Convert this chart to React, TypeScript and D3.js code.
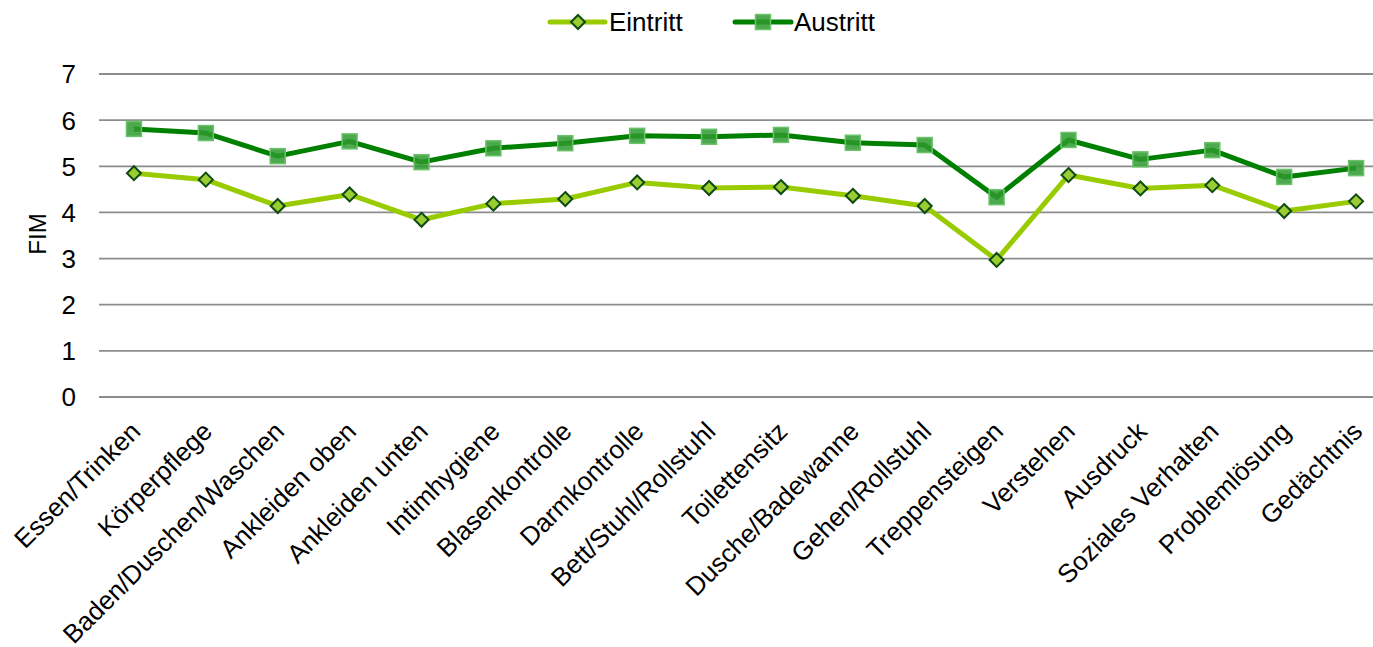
import React from "react";
import * as d3 from "d3";

const categories = [
  "Essen/Trinken", "Körperpflege", "Baden/Duschen/Waschen", "Ankleiden oben",
  "Ankleiden unten", "Intimhygiene", "Blasenkontrolle", "Darmkontrolle",
  "Bett/Stuhl/Rollstuhl", "Toilettensitz", "Dusche/Badewanne", "Gehen/Rollstuhl",
  "Treppensteigen", "Verstehen", "Ausdruck", "Soziales Verhalten", "Problemlösung", "Gedächtnis",
];
const eintritt = [4.85, 4.71, 4.14, 4.39, 3.84, 4.19, 4.29, 4.65, 4.53, 4.55, 4.36, 4.14, 2.97, 4.81, 4.52, 4.59, 4.03, 4.24];
const austritt = [5.81, 5.72, 5.22, 5.54, 5.09, 5.39, 5.50, 5.66, 5.64, 5.68, 5.51, 5.46, 4.33, 5.57, 5.15, 5.35, 4.77, 4.96];
const yTicks = [0, 1, 2, 3, 4, 5, 6, 7];

const W = 1373, H = 647;
const FONT = "Liberation Sans, Arial, sans-serif";

export default function App() {
  const x = d3.scaleBand<string>().domain(categories).range([98, 1392]);
  const cx = (c: string) => (x(c) as number) + x.bandwidth() / 2;
  const y = d3.scaleLinear().domain([0, 7]).range([397, 74]);
  const line = d3.line<number>().x((_, i) => cx(categories[i])).y((d) => y(d));

  const diamond = (px: number, py: number, r = 7) =>
    `M${px},${py - r}L${px + r},${py}L${px},${py + r}L${px - r},${py}Z`;

  return (
    <svg width={W} height={H} style={{ position: "absolute", left: 0, top: 0, background: "#fff" }} fontFamily={FONT}>
      {yTicks.map((t) => (
        <g key={t}>
          <line x1={99} x2={1392} y1={y(t)} y2={y(t)} stroke="#8c8c8c" strokeWidth={1.8} />
          <text x={76} y={y(t)} dy="0.36em" textAnchor="end" fontSize={26} fill="#000">{t}</text>
        </g>
      ))}
      <text transform={`translate(46,${234}) rotate(-90)`} textAnchor="middle" fontSize={24} fill="#000">FIM</text>

      {categories.map((c) => (
        <text key={c} transform={`translate(${cx(c) + 8},${433}) rotate(-45)`} textAnchor="end" fontSize={26} fill="#000">{c}</text>
      ))}

      <path d={line(eintritt) as string} fill="none" stroke="#99cc00" strokeWidth={5} strokeLinejoin="round" />
      <path d={line(austritt) as string} fill="none" stroke="#008000" strokeWidth={5} strokeLinejoin="round" />

      {austritt.map((v, i) => (
        <rect key={"a" + i} x={cx(categories[i]) - 7.5} y={y(v) - 7.5} width={15} height={15}
          fill="#2e9a2e" fillOpacity={0.85} stroke="#6cc26c" strokeWidth={1.5} />
      ))}
      {eintritt.map((v, i) => (
        <path key={"e" + i} d={diamond(cx(categories[i]), y(v))} fill="#9acd32" stroke="#0f4a12" strokeWidth={2} />
      ))}

      {/* legend */}
      <line x1={550} x2={605} y1={22} y2={22} stroke="#99cc00" strokeWidth={5} strokeLinecap="round" />
      <path d={diamond(578, 22)} fill="#9acd32" stroke="#0f4a12" strokeWidth={2} />
      <text x={609} y={22} dy="0.36em" fontSize={26} fill="#000">Eintritt</text>
      <line x1={735} x2={791} y1={22} y2={22} stroke="#008000" strokeWidth={5} strokeLinecap="round" />
      <rect x={755.5} y={14.5} width={15} height={15} fill="#2e9a2e" fillOpacity={0.85} stroke="#6cc26c" strokeWidth={1.5} />
      <text x={794} y={22} dy="0.36em" fontSize={26} fill="#000">Austritt</text>
    </svg>
  );
}
